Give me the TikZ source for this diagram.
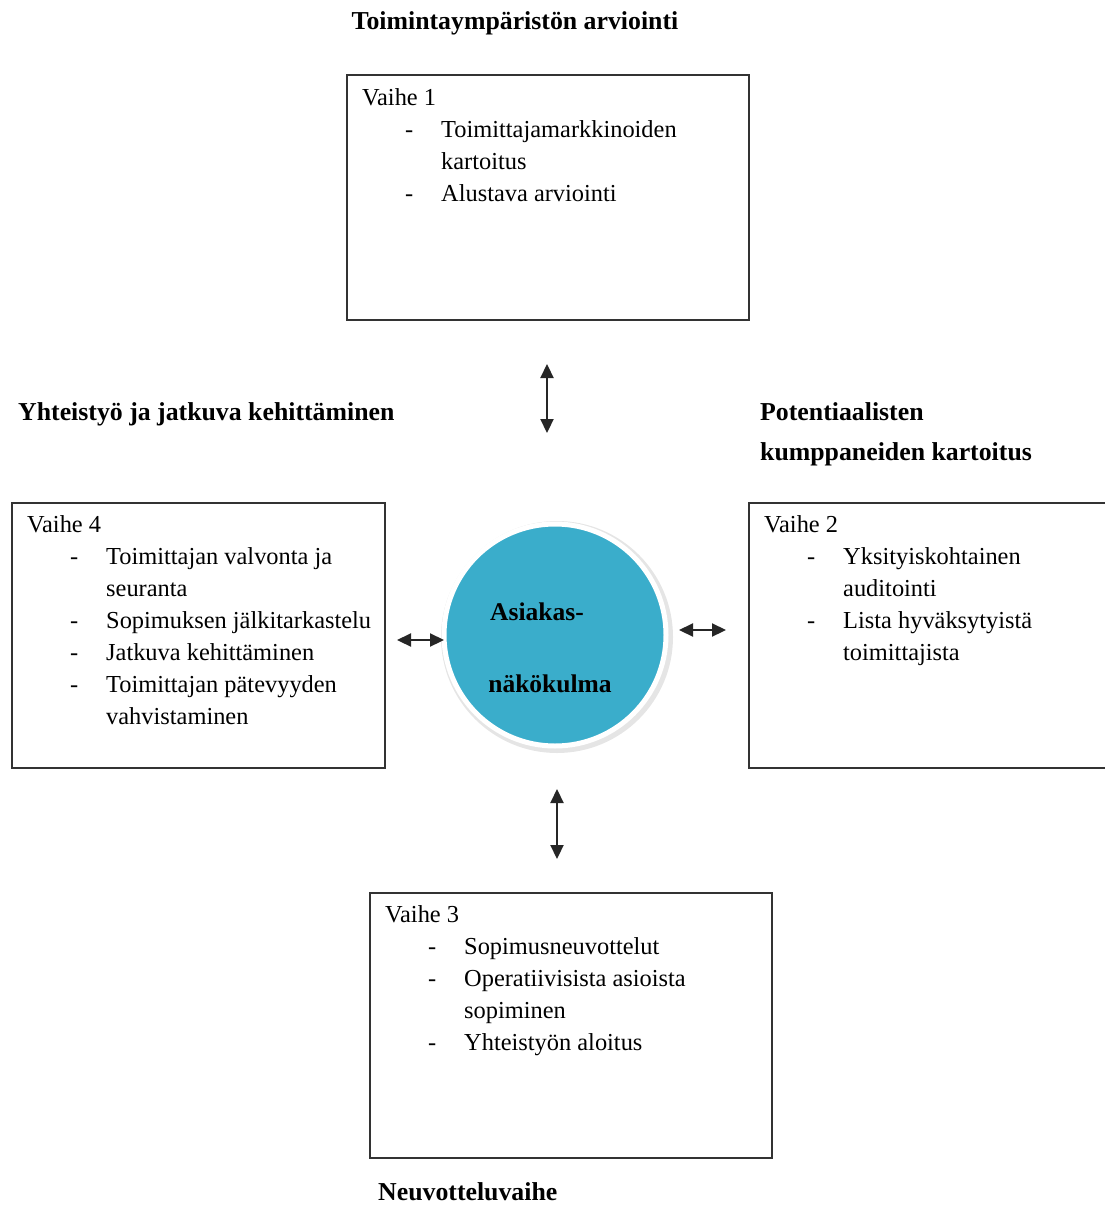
\documentclass[tikz,border=0pt]{standalone}
\usepackage{fontspec}
\setmainfont{Liberation Serif}
\usetikzlibrary{arrows.meta,shadows}
\definecolor{circblue}{HTML}{3AADCB}
\tikzset{
  x=1pt, y=-1pt,
  phasebox/.style={draw=black!80, line width=1.6pt, minimum width=#1, minimum height=265pt, inner sep=0pt, anchor=north west},
  phasetext/.style={anchor=north west, inner sep=0pt, align=left, font=\fontsize{24.4}{32}\selectfont},
  headline/.style={inner sep=0pt, font=\bfseries\fontsize{25.8}{40}\selectfont, align=left},
  dbl/.style={{Triangle[length=14pt,width=13pt]}-{Triangle[length=14pt,width=13pt]}, line width=2.2pt, black!85},
}
\newcommand{\itm}[1]{\hspace*{43pt}\makebox[36pt][l]{-}#1}
\newcommand{\cnt}[1]{\hspace*{79pt}#1}
\begin{document}
\begin{tikzpicture}
\useasboundingbox (0,0) rectangle (1105,1207);
% boxes
\node[phasebox=402pt, minimum height=245pt] (b1) at (346,74) {};
\node[phasebox=373pt] (b4) at (11,502) {};
\node[phasebox=370pt] (b2) at (748,502) {};
\node[phasebox=402pt] (b3) at (369,892) {};
% box texts
\node[phasetext] (t1) at (362,88) {Vaihe 1\\ \itm{Toimittajamarkkinoiden}\\ \cnt{kartoitus}\\ \itm{Alustava arviointi}};
\node[phasetext] (t4) at (27,515) {Vaihe 4\\ \itm{Toimittajan valvonta ja}\\ \cnt{seuranta}\\ \itm{Sopimuksen jälkitarkastelu}\\ \itm{Jatkuva kehittäminen}\\ \itm{Toimittajan pätevyyden}\\ \cnt{vahvistaminen}};
\node[phasetext] (t2) at (764,515) {Vaihe 2\\ \itm{Yksityiskohtainen}\\ \cnt{auditointi}\\ \itm{Lista hyväksytyistä}\\ \cnt{toimittajista}};
\node[phasetext] (t3) at (385,905) {Vaihe 3\\ \itm{Sopimusneuvottelut}\\ \itm{Operatiivisista asioista}\\ \cnt{sopiminen}\\ \itm{Yhteistyön aloitus}};
% headings
\node[headline] (h1) at (515,23) {Toimintaympäristön arviointi};
\node[headline, anchor=west] (h4) at (18,414) {Yhteistyö ja jatkuva kehittäminen};
\node[headline, anchor=north west] (h2) at (760,402) {Potentiaalisten\\kumppaneiden kartoitus};
\node[headline, anchor=west] (h3) at (378,1192) {Neuvotteluvaihe};
% circle
\fill[black!10] (557,637) circle (116);
\node[circle, fill=circblue, draw=white, line width=5pt, minimum size=222pt, inner sep=0pt] (c) at (555,635) {};
\node[inner sep=0pt, font=\bfseries\fontsize{25.5}{30}\selectfont] (c1) at (537,612) {Asiakas-};
\node[inner sep=0pt, font=\bfseries\fontsize{25.5}{30}\selectfont] (c2) at (550,684) {näkökulma};
% arrows
\coordinate (a1s) at (547,364); \coordinate (a1e) at (547,433);
\coordinate (a4s) at (397,640); \coordinate (a4e) at (444,640);
\coordinate (a2s) at (679,630); \coordinate (a2e) at (726,630);
\coordinate (a3s) at (557,789); \coordinate (a3e) at (557,859);
\draw[dbl] (a1s) -- (a1e);
\draw[dbl] (a4s) -- (a4e);
\draw[dbl] (a2s) -- (a2e);
\draw[dbl] (a3s) -- (a3e);
\end{tikzpicture}
\end{document}
